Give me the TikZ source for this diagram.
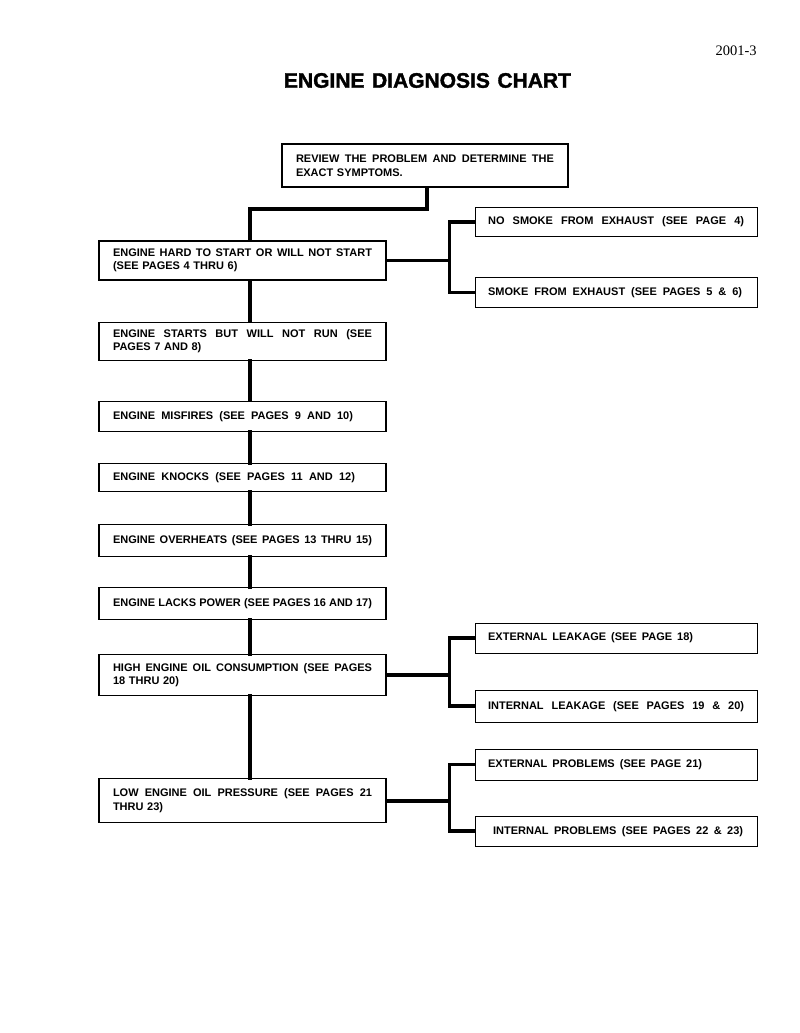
\documentclass[tikz,border=0pt]{standalone}
\usepackage{fontspec}
\setmainfont{Liberation Sans}
\newfontfamily\pagefont{Liberation Serif}
\newfontfamily\titlefont{Liberation Sans}[BoldFeatures={FakeBold=1.6}]
\usetikzlibrary{positioning}
\newcommand{\stretched}[2]{{\spaceskip=0.28em plus 1fil minus 0.12em\relax\makebox[#1][s]{#2}}}

\begin{document}
\begin{tikzpicture}[x=1pt,y=-1pt,thick]
  \tikzset{every node/.style={font=\fontsize{11}{13.5}\selectfont\bfseries}}
  \tikzset{chartbox/.style={draw,line width=1.1pt,fill=white,rectangle,inner xsep=14pt,inner ysep=0pt,align=left}}
  \tikzset{leftbox/.style={chartbox,text width=259pt}}
  \tikzset{rightbox/.style={chartbox,inner xsep=13pt,text width=256pt}}
  \tikzset{link/.style={line width=3.6pt,line cap=rect}}

  \path[fill=white] (0,0) rectangle (800,1033);

  \node[font=\pagefont\fontsize{14.5}{16}\selectfont,inner sep=0pt,anchor=east] (pageno) at (757,50.5) {2001-3};
  \node[font=\titlefont\fontsize{21}{24}\selectfont\bfseries,inner sep=0pt] (title) at (427.5,80.5) {\stretched{287pt}{ENGINE DIAGNOSIS CHART}};

  \node[chartbox, text width=258pt, minimum height=43pt] (review) at (425,165.5) {\stretched{258pt}{REVIEW THE PROBLEM AND DETERMINE THE}\\EXACT SYMPTOMS.};
  \node[leftbox, minimum height=39pt] (hard) at (242.5,260.5) {\stretched{259pt}{ENGINE HARD TO START OR WILL NOT START}\\(SEE PAGES 4 THRU 6)};
  \node[leftbox, minimum height=38pt, below=41pt of hard] (starts) {\stretched{259pt}{ENGINE STARTS BUT WILL NOT RUN (SEE}\\PAGES 7 AND 8)};
  \node[leftbox, minimum height=30pt, below=40pt of starts] (misfires) {\stretched{240pt}{ENGINE MISFIRES (SEE PAGES 9 AND 10)}};
  \node[leftbox, minimum height=28pt, below=31pt of misfires] (knocks) {\stretched{242pt}{ENGINE KNOCKS (SEE PAGES 11 AND 12)}};
  \node[leftbox, minimum height=32pt, below=32pt of knocks] (overheats) {\stretched{259pt}{ENGINE OVERHEATS (SEE PAGES 13 THRU 15)}};
  \node[leftbox, minimum height=32pt, below=30pt of overheats] (lacks) {\stretched{259pt}{ENGINE LACKS POWER (SEE PAGES 16 AND 17)}};
  \node[leftbox, minimum height=41pt, below=34pt of lacks] (oilhigh) {\stretched{259pt}{HIGH ENGINE OIL CONSUMPTION (SEE PAGES}\\18 THRU 20)};
  \node[leftbox, minimum height=44pt, below=82pt of oilhigh] (oillow) {\stretched{259pt}{LOW ENGINE OIL PRESSURE (SEE PAGES 21}\\THRU 23)};

  \node[rightbox, minimum height=29pt, above right=23.5pt and 88pt of hard.east] (nosmoke) {\stretched{256pt}{NO SMOKE FROM EXHAUST (SEE PAGE 4)}};
  \node[rightbox, minimum height=30pt, below right=16.5pt and 88pt of hard.east] (smoke) {\stretched{254pt}{SMOKE FROM EXHAUST (SEE PAGES 5 \& 6)}};
  \node[rightbox, minimum height=30pt, above right=21.5pt and 88pt of oilhigh.east] (extleak) {\stretched{205pt}{EXTERNAL LEAKAGE (SEE PAGE 18)}};
  \node[rightbox, minimum height=32pt, below right=14.5pt and 88pt of oilhigh.east] (intleak) {\stretched{256pt}{INTERNAL LEAKAGE (SEE PAGES 19 \& 20)}};
  \node[rightbox, minimum height=31pt, above right=20pt and 88pt of oillow.east] (extprob) {\stretched{214pt}{EXTERNAL PROBLEMS (SEE PAGE 21)}};
  \node[rightbox, minimum height=30pt, below right=15pt and 88pt of oillow.east] (intprob) {\hspace*{5pt}\stretched{250pt}{INTERNAL PROBLEMS (SEE PAGES 22 \& 23)}};

  \coordinate (turn) at (250,209);
  \draw[link] ([xshift=2pt]review.south) |- (turn) -- (turn |- hard.north);
  \foreach \a/\b in {hard/starts,starts/misfires,misfires/knocks,knocks/overheats,overheats/lacks,lacks/oilhigh,oilhigh/oillow}
    \draw[link] (turn |- \a.south) -- (turn |- \b.north);
  \foreach \parent/\hi/\lo in {hard/nosmoke/smoke,oilhigh/extleak/intleak,oillow/extprob/intprob}
  {
    \draw[link] (\hi.west) -- ++(-25pt,0) |- (\lo.west);
    \draw[link] (\parent.east) -- ++(63pt,0);
  }
\end{tikzpicture}
\end{document}
